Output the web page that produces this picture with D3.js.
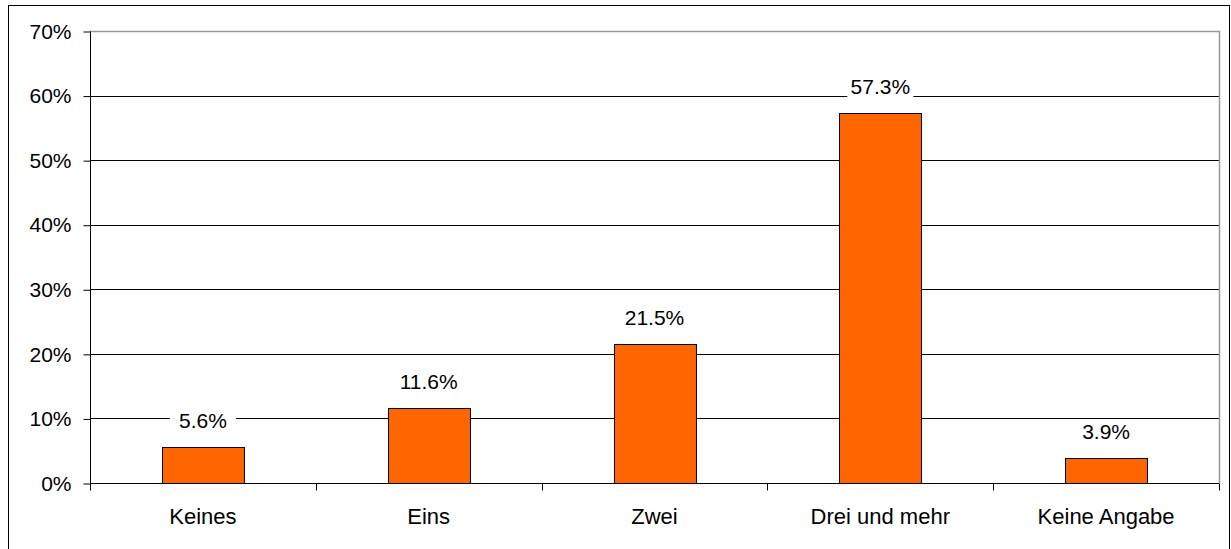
<!DOCTYPE html>
<html>
<head>
<meta charset="utf-8">
<script src="https://cdn.jsdelivr.net/npm/d3@7"></script>
<style>
  body { margin: 0; background: #fff; }
  svg { display: block; font-family: "Liberation Sans", Arial, sans-serif; }
</style>
</head>
<body>
<svg id="chart"></svg>
<script>
const categories = ['Keines', 'Eins', 'Zwei', 'Drei und mehr', 'Keine Angabe'];
const values = [0.056, 0.116, 0.215, 0.573, 0.039];
const yTicks = [0, 0.1, 0.2, 0.3, 0.4, 0.5, 0.6, 0.7];

const width = 1231;
const height = 549;
const margin = { top: 31, right: 12, bottom: 66, left: 90 };

const svg = d3.select('#chart')
  .attr('width', width)
  .attr('height', height)
  .attr('viewBox', `0 0 ${width} ${height}`);

// outer frame
svg.append('rect')
  .attr('x', 8.5).attr('y', 5.5)
  .attr('width', 1221).attr('height', 545)
  .attr('fill', 'none').attr('stroke', '#000');

const x = d3.scaleBand()
  .domain(categories)
  .range([margin.left, width - margin.right])
  .paddingInner(0.637)
  .paddingOuter(0.3185);

const step = x.step();

const y = d3.scaleLinear()
  .domain([0, 0.7])
  .range([height - margin.bottom, margin.top]);

const g = svg.append('g');

// gridlines
g.selectAll('.grid')
  .data(yTicks.slice(1, -1))
  .join('line')
  .attr('x1', margin.left).attr('x2', width - margin.right)
  .attr('y1', d => Math.round(y(d)) + 0.5).attr('y2', d => Math.round(y(d)) + 0.5)
  .attr('stroke', '#000');

// plot border top/right (grey)
g.append('path')
  .attr('d', `M${margin.left},${Math.round(y(0.7)) + 0.5}H${width - margin.right + 0.5}V${Math.round(y(0)) + 0.5}`)
  .attr('fill', 'none').attr('stroke', '#999').attr('stroke-width', 1.5);

// bars
g.selectAll('.bar')
  .data(values)
  .join('rect')
  .attr('x', (d, i) => Math.round(x(categories[i])) + 0.5)
  .attr('y', d => Math.round(y(d)) + 0.5)
  .attr('width', x.bandwidth())
  .attr('height', d => Math.round(y(0)) - Math.round(y(d)))
  .attr('fill', '#ff6600')
  .attr('stroke', '#000')
  .attr('stroke-width', 1);

// y axis
const yAxis = g.append('g')
  .attr('transform', `translate(${margin.left + 0.5},0.5)`)
  .call(d3.axisLeft(y).tickValues(yTicks).tickSize(7).tickPadding(12)
    .tickFormat(d => `${Math.round(d * 100)}%`));
yAxis.select('.domain').attr('stroke', '#000').attr('d', `M0,${y(0.7)}V${y(0) + 6}`);
yAxis.selectAll('text').attr('font-size', '21px').attr('fill', '#000')
  .attr('font-family', '"Liberation Sans", Arial, sans-serif');

// x axis
const xAxis = g.append('g')
  .attr('transform', `translate(0,${Math.round(y(0)) + 0.5})`);
xAxis.append('line')
  .attr('x1', margin.left).attr('x2', width - margin.right)
  .attr('stroke', '#000');
xAxis.selectAll('.tick')
  .data(d3.range(categories.length + 1))
  .join('line')
  .attr('x1', i => Math.round(margin.left + i * step) + 0.5)
  .attr('x2', i => Math.round(margin.left + i * step) + 0.5)
  .attr('y1', 0).attr('y2', 7)
  .attr('stroke', '#000');
xAxis.selectAll('.cat')
  .data(categories)
  .join('text')
  .attr('x', d => x(d) + x.bandwidth() / 2)
  .attr('y', 40)
  .attr('text-anchor', 'middle')
  .attr('font-size', '22px')
  .text(d => d);

// data labels with white background
const labels = g.selectAll('.lbl')
  .data(values)
  .join('g')
  .attr('transform', (d, i) => `translate(${x(categories[i]) + x.bandwidth() / 2},${y(d) - 19})`);
labels.append('rect')
  .attr('x', -33).attr('y', -18)
  .attr('width', 66).attr('height', 24)
  .attr('fill', '#fff');
labels.append('text')
  .attr('text-anchor', 'middle')
  .attr('font-size', '21px')
  .text(d => `${(d * 100).toFixed(1)}%`);
</script>
</body>
</html>
